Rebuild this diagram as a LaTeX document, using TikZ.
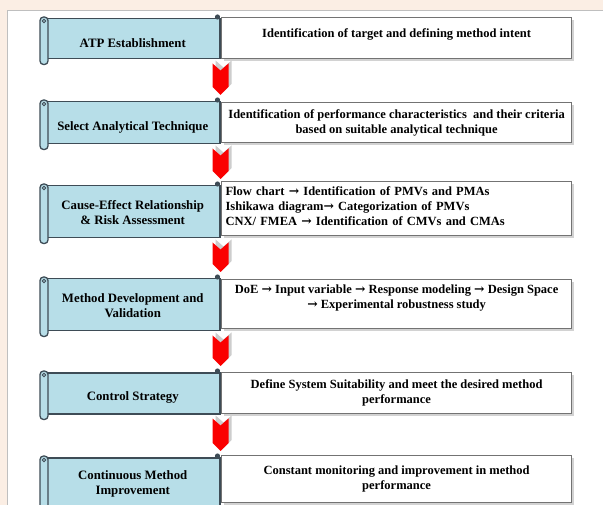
\documentclass[tikz,border=0pt]{standalone}
\usepackage{fontspec}
\setmainfont{Liberation Serif}
\newfontfamily\arrowfont{DejaVu Serif}
\newcommand\toarrow{{\arrowfont\bfseries →}}
\usetikzlibrary{calc,shadows}
\definecolor{peach}{RGB}{251,238,228}
\definecolor{scrollblue}{RGB}{183,222,232}
\definecolor{scrolledge}{RGB}{62,76,86}
\definecolor{chevgray}{RGB}{205,205,205}
\definecolor{chevred}{RGB}{250,0,0}
\tikzset{
  scroll/.style={draw=scrolledge, line width=1.5pt, fill=scrollblue,
    minimum width=174pt, anchor=north west, align=center,
    font=\fontsize{12.8}{15.5}\selectfont\bfseries, text height=18pt, inner sep=2pt},
  roll/.style={draw=scrolledge, line width=1.3pt, fill=scrollblue, rounded corners=3.5pt},
  infobox/.style={draw=black!55, line width=1.2pt, fill=white,
    minimum width=350pt, anchor=north west, align=center,
    font=\fontsize{12.5}{15}\selectfont\bfseries, inner sep=2pt,
    drop shadow={shadow xshift=2pt, shadow yshift=-2pt, fill=black!35}}
}
\begin{document}
\begin{tikzpicture}[x=1pt, y=-1pt]
  \useasboundingbox (0,0) rectangle (603,505);
  \clip (0,0) rectangle (603,505);
  \fill[peach] (0,0) rectangle (603,505);
  \fill[white] (7,10) rectangle (610,510);
  \draw[black!25, line width=0.8pt] (7,510) -- (7,10) -- (610,10);

  \node[scroll, minimum height=40pt] (s1) at (45,18) {ATP Establishment};
  \node[scroll, minimum height=42pt] (s2) at (45,101) {Select Analytical Technique};
  \node[scroll, minimum height=52pt, text height=26pt] (s3) at (45,185) {Cause-Effect Relationship\\\& Risk Assessment};
  \node[scroll, minimum height=52pt, text height=26pt] (s4) at (45,278) {Method Development and\\Validation};
  \node[scroll, minimum height=41pt] (s5) at (45,372) {Control Strategy};
  \node[scroll, minimum height=53pt, text height=24pt] (s6) at (45,457) {Continuous Method\\Improvement};

  \node[infobox, minimum height=41pt, text depth=10pt] (b1) at (221,17) {Identification of target and defining method intent};
  \node[infobox, minimum height=40pt] (b2) at (221,102) {Identification of performance characteristics \ and their criteria\\based on suitable analytical technique};
  \node[infobox, minimum height=54pt, text width=342pt, align=left, text depth=34pt] (b3) at (221,181) {Flow chart \toarrow{} Identification of PMVs and PMAs\\Ishikawa diagram\toarrow{} Categorization of PMVs\\CNX/ FMEA \toarrow{} Identification of CMVs and CMAs};
  \node[infobox, minimum height=49pt, text depth=14pt] (b4) at (221,279) {DoE \toarrow{} Input variable \toarrow{} Response modeling \toarrow{} Design Space\\\toarrow{} Experimental robustness study};
  \node[infobox, minimum height=41pt] (b5) at (221,372) {Define System Suitability and meet the desired method\\performance};
  \node[infobox, minimum height=47pt] (b6) at (221,455) {Constant monitoring and improvement in method\\performance};

  \foreach \s in {s1,s2,s3,s4,s5,s6} {
    \draw[roll] ($(\s.north west)+(-5,-1)$) rectangle ($(\s.south west)+(3,5)$);
    \draw[scrolledge, line width=0.8pt] ($(\s.north west)+(-1,3)$) circle (1.8pt);
    \fill[scrolledge] ($(\s.north east)+(-3,-1)$) circle (2.6pt);
  }

  \foreach \a/\b in {s1/s2,s2/s3,s3/s4,s4/s5,s5/s6} {
    \fill[chevgray] let \p1=(\a.south east), \p2=(\b.north east) in
      (\x1-5pt,\y1-1pt) -- (\x1+3pt,\y1-8pt) -- (\x1+11pt,\y1-1pt)
      -- (\x1+11pt,\y2+17pt) -- (\x1+3pt,\y2+9pt) -- (\x1-5pt,\y2+17pt) -- cycle;
    \fill[chevred] let \p1=(\a.south east), \p2=(\b.north east) in
      (\x1-8pt,\y1-4pt) -- (\x1,\y1-11pt) -- (\x1+8pt,\y1-4pt)
      -- (\x1+8pt,\y2+14pt) -- (\x1,\y2+6pt) -- (\x1-8pt,\y2+14pt) -- cycle;
  }
\end{tikzpicture}
\end{document}
